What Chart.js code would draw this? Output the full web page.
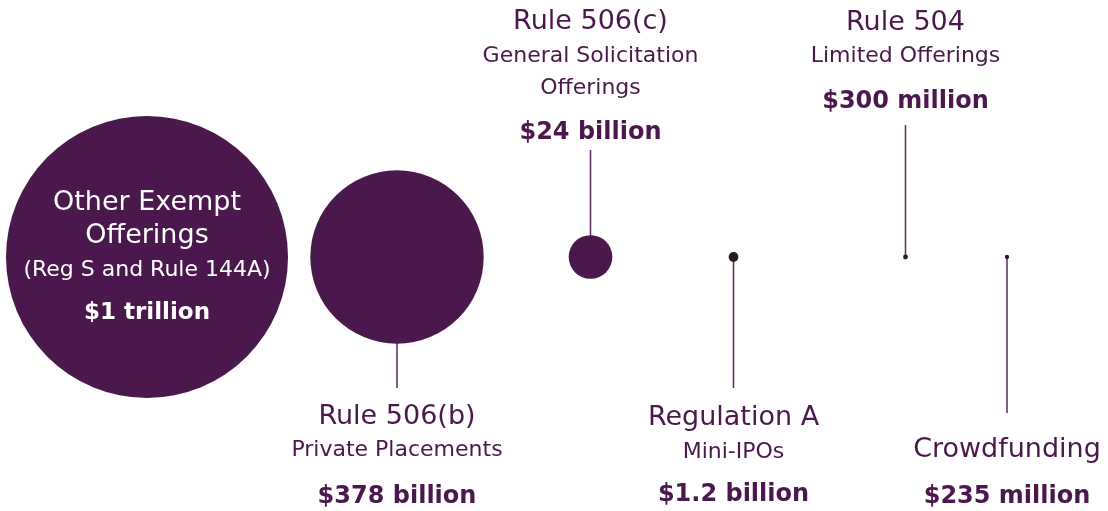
<!DOCTYPE html>
<html>
<head>
<meta charset="utf-8">
<script src="https://cdn.jsdelivr.net/npm/chart.js@4/dist/chart.umd.min.js"></script>
<style>
    body { margin: 0; background: #fff; }
    canvas { display: block; }
</style>
</head>
<body>
<canvas id="offeringsChart" width="1108" height="511"></canvas>
<script>
// amounts raised, in billions of dollars
const offerings = ['Other Exempt Offerings', 'Rule 506(b)', 'Rule 506(c)', 'Regulation A', 'Rule 504', 'Crowdfunding'];
const amountsBillion = [1000, 378, 24, 1.2, 0.3, 0.235];
const titles = [['Other Exempt', 'Offerings'], ['Rule 506(b)'], ['Rule 506(c)'], ['Regulation A'], ['Rule 504'], ['Crowdfunding']];
const subtitles = [['(Reg S and Rule 144A)'], ['Private Placements'], ['General Solicitation', 'Offerings'], ['Mini-IPOs'], ['Limited Offerings'], []];

// layout only (x in axis units, label line centres in px)
const slotX = [147, 397, 590.5, 733.5, 905.5, 1007];
const leaderEnd = [null, 388, 150, 388, 125, 413];
const lineY = [
    [203, 236, 270, 313],
    [417, 450, 497],
    [22, 56, 88, 133],
    [418, 452, 495],
    [23, 56, 102],
    [450, 497]
];
const MAX_R = 141;
const PURPLE = '#4a184c';
const DOT = '#231f20';

function formatAmount(v) {
    if (v >= 1000) return '$' + (v / 1000) + ' trillion';
    if (v >= 1) return '$' + v + ' billion';
    return '$' + Math.round(v * 1000) + ' million';
}

// bubble area proportional to the amount
const radii = amountsBillion.map(v => MAX_R * Math.sqrt(v / amountsBillion[0]));

const FONT = '"DejaVu Sans", sans-serif';

const calloutPlugin = {
    id: 'callouts',
    beforeDatasetsDraw(chart) {
        const ctx = chart.ctx;
        const meta = chart.getDatasetMeta(0);
        ctx.save();
        ctx.strokeStyle = '#5a2a5e';
        ctx.lineWidth = 1.5;
        meta.data.forEach((pt, i) => {
            if (leaderEnd[i] === null) return;
            ctx.beginPath();
            ctx.moveTo(pt.x, pt.y);
            ctx.lineTo(pt.x, leaderEnd[i]);
            ctx.stroke();
        });
        ctx.restore();
    },
    afterDatasetsDraw(chart) {
        const ctx = chart.ctx;
        const meta = chart.getDatasetMeta(0);
        ctx.save();
        ctx.textAlign = 'center';
        ctx.textBaseline = 'middle';
        meta.data.forEach((pt, i) => {
            const inside = i === 0;
            const lines = [];
            titles[i].forEach(t => lines.push({ text: t, font: '400 27px ' + FONT }));
            subtitles[i].forEach(t => lines.push({ text: t, font: '400 22px ' + FONT }));
            lines.push({ text: formatAmount(amountsBillion[i]), font: '700 ' + (inside ? 23 : 24) + 'px ' + FONT });
            ctx.fillStyle = inside ? '#ffffff' : PURPLE;
            lines.forEach((ln, k) => {
                ctx.font = ln.font;
                ctx.fillText(ln.text, pt.x, lineY[i][k]);
            });
        });
        ctx.restore();
    }
};

new Chart(document.getElementById('offeringsChart'), {
    type: 'bubble',
    data: {
        labels: offerings,
        datasets: [{
            label: 'Amount raised',
            data: amountsBillion.map((v, i) => ({ x: slotX[i], y: 0, r: radii[i] })),
            backgroundColor: radii.map(r => r > 10 ? PURPLE : DOT),
            borderWidth: 0,
            hoverRadius: 0,
            clip: false
        }]
    },
    options: {
        responsive: false,
        animation: false,
        devicePixelRatio: 1,
        layout: { autoPadding: false, padding: { top: 3, bottom: 0, left: 0, right: 0 } },
        scales: {
            x: { type: 'linear', min: 0, max: 1108, display: false },
            y: { type: 'linear', min: -1, max: 1, display: false }
        },
        plugins: { legend: { display: false }, tooltip: { enabled: false } },
        events: []
    },
    plugins: [calloutPlugin]
});
</script>
</body>
</html>
